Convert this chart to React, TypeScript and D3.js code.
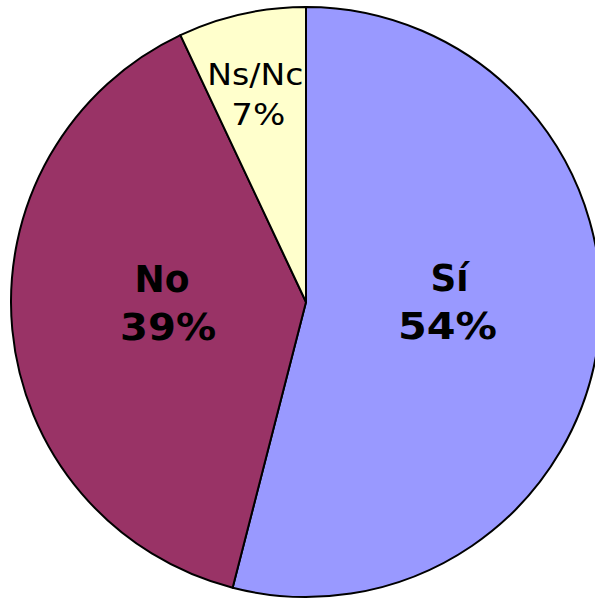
import React from "react";
import * as d3 from "d3";

const categories = ["Sí", "No", "Ns/Nc"];
const values = [54, 39, 7];
const percentLabels = ["54%", "39%", "7%"];
const colors = ["#9999FF", "#993366", "#FFFFCC"];

const W = 595;
const H = 600;
const CX = 306;
const CY = 302;
const R = 295;

// label styling (not data)
const labelStyle = [
  { k: 0.48, bold: true, size: 37, gap: 48, w1: 38, w2: 99, dx: 2, dy: -18, dx1: 1, dx2: -1 },
  { k: 0.49, bold: true, size: 37, gap: 48, w1: 55, w2: 96, dx: 3, dy: -13, dx1: -3, dx2: 3 },
  { k: 0.725, bold: false, size: 30, gap: 40, w1: 96, w2: 54, dx: 0, dy: 1, dx1: -4, dx2: -1 },
];

export default function App() {
  const pie = d3.pie<number>().sort(null).value((d) => d)(values);
  const arc = d3.arc<d3.PieArcDatum<number>>().innerRadius(0).outerRadius(R);

  return (
    <svg
      width={W}
      height={H}
      style={{ position: "absolute", left: 0, top: 0, background: "#fff" }}
    >
      <g transform={`translate(${CX},${CY})`}>
        {pie.map((p, i) => (
          <path
            key={i}
            d={arc(p) || ""}
            fill={colors[i]}
            stroke="#000"
            strokeWidth={2}
            strokeLinejoin="round"
          />
        ))}
        {pie.map((p, i) => {
          const s = labelStyle[i];
          const a = (p.startAngle + p.endAngle) / 2;
          const x = Math.sin(a) * R * s.k + s.dx;
          const y = -Math.cos(a) * R * s.k + s.dy;
          const fontWeight = s.bold ? "bold" : "normal";
          const capH = s.size * 0.73;
          const top = y - (s.gap + capH) / 2;
          return (
            <g key={"l" + i} fontFamily="DejaVu Sans, Verdana, sans-serif" fontSize={s.size} fontWeight={fontWeight} fill="#000" textAnchor="middle">
              <text x={x + s.dx1} y={top + capH} textLength={s.w1} lengthAdjust="spacingAndGlyphs">
                {categories[i]}
              </text>
              <text x={x + s.dx2} y={top + capH + s.gap} textLength={s.w2} lengthAdjust="spacingAndGlyphs">
                {percentLabels[i]}
              </text>
            </g>
          );
        })}
      </g>
    </svg>
  );
}
